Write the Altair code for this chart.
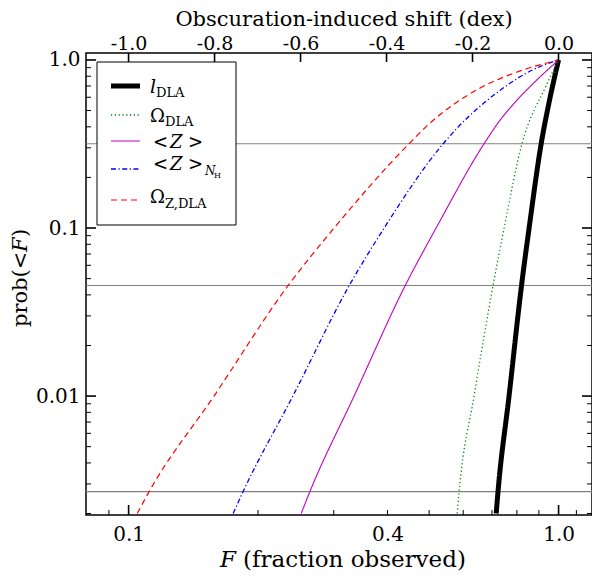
import altair as alt
import pandas as pd

FONT = "DejaVu Serif"
W, H = 506, 462

# ---- data (F = fraction observed, p = prob(<F)) ----
p_ldla = [1.0, 0.578, 0.3173, 0.1, 0.0455, 0.01, 0.0027, 0.002]
F_ldla = [1.0, 0.953, 0.911, 0.854, 0.820, 0.767, 0.723, 0.716]

p_omega = [1.0, 0.681, 0.3173, 0.1, 0.0455, 0.01, 0.0027, 0.002]
F_omega = [1.0, 0.930, 0.822, 0.747, 0.704, 0.636, 0.587, 0.581]

p_z = [1.0, 0.760, 0.578, 0.428, 0.3173, 0.1, 0.0455, 0.01, 0.0027, 0.002]
F_z = [1.0, 0.890, 0.801, 0.726, 0.671, 0.519, 0.440, 0.3345, 0.264, 0.252]

p_znh = [1.0, 0.872, 0.663, 0.518, 0.399, 0.3173, 0.1, 0.0455, 0.01, 0.0027, 0.002]
F_znh = [1.0, 0.870, 0.733, 0.650, 0.584, 0.539, 0.393, 0.326, 0.241, 0.1846, 0.175]

p_oz = [1.0, 0.848, 0.681, 0.540, 0.422, 0.3173, 0.1, 0.0455, 0.01, 0.0027, 0.002]
F_oz = [1.0, 0.801, 0.657, 0.568, 0.503, 0.449, 0.3006, 0.235, 0.158, 0.1116, 0.1047]

sigma_levels = [0.3173, 0.0455, 0.0027]

x_domain = [0.0796, 1.196]
y_domain = [0.00196, 1.10]
dex_domain = [-1.099, 0.0779]

x_labels = [0.1, 0.4, 1.0]
x_major = [0.1, 1.0]
x_minor = [0.09, 0.2, 0.3, 0.4, 0.5, 0.6, 0.7, 0.8, 0.9, 1.1]
y_labels = [0.01, 0.1, 1.0]
y_major = [0.01, 0.1, 1.0]
y_minor = ([0.002, 0.003, 0.004, 0.005, 0.006, 0.007, 0.008, 0.009]
           + [0.02, 0.03, 0.04, 0.05, 0.06, 0.07, 0.08, 0.09]
           + [0.2, 0.3, 0.4, 0.5, 0.6, 0.7, 0.8, 0.9])
dex_ticks = [-1.0, -0.8, -0.6, -0.4, -0.2, 0.0]

series_F = [F_ldla, F_omega, F_z, F_znh, F_oz]
series_p = [p_ldla, p_omega, p_z, p_znh, p_oz]
series_color = ["#000000", "#008000", "#bf00bf", "#0000ff", "#ff0000"]
series_width = [5, 1.3, 1.1, 1.3, 1.2]
series_dash = [[1, 0], [1.2, 2.6], [1, 0], [5, 2.5, 1.2, 2.5], [6, 4]]


def xs():
    return alt.Scale(type="log", domain=x_domain, nice=False, zero=False)


yscale = alt.Scale(type="log", domain=y_domain, nice=False, zero=False)
dscale = alt.Scale(type="linear", domain=dex_domain, nice=False, zero=False)

xaxis = alt.Axis(values=x_labels, format=".1f", labelFont=FONT, labelFontSize=20,
                 labelColor="black", labelPadding=9, ticks=False, domain=False,
                 grid=False, title=None, labelFlush=False, labelOverlap=False)
yaxis = alt.Axis(values=y_labels,
                 labelExpr="datum.value >= 0.1 ? format(datum.value, '.1f') : format(datum.value, '.2f')",
                 labelFont=FONT, labelFontSize=20, labelColor="black", labelPadding=6,
                 ticks=False, domain=False, grid=False, title=None,
                 labelFlush=False, labelOverlap=False)
taxis = alt.Axis(orient="top", values=dex_ticks,
                 labelExpr="replace(format(datum.value, '.1f'), '\u2212', '-')",
                 labelFont=FONT, labelFontSize=19, labelColor="black", labelPadding=0,
                 ticks=False, domain=False, grid=False, title=None,
                 labelFlush=False, labelOverlap=False)

one = pd.DataFrame({"a": [0]})
layers = []

# sigma reference lines
hl = pd.DataFrame({"p": sigma_levels})
layers.append(alt.Chart(hl).mark_rule(color="#808080", strokeWidth=1.2).encode(
    y=alt.Y("p:Q", scale=yscale, axis=yaxis)))

# curves
for i, (Fs, ps, c, w, d) in enumerate(zip(series_F, series_p, series_color,
                                          series_width, series_dash)):
    df = pd.DataFrame({"F": Fs, "p": ps})
    layers.append(alt.Chart(df).mark_line(color=c, strokeWidth=w, strokeDash=d,
                                          clip=True, interpolate="monotone").encode(
        x=alt.X("F:Q", scale=xs(), axis=xaxis if i == 0 else None),
        y=alt.Y("p:Q", scale=yscale, axis=yaxis),
        order=alt.Order("F:Q")))

# bottom ticks (inward)
for vals, ln, sw in [(x_major, 10, 1.6), (x_minor, 5, 1.0)]:
    layers.append(alt.Chart(pd.DataFrame({"F": vals})).mark_rule(
        color="black", strokeWidth=sw).encode(
        x=alt.X("F:Q", scale=xs(), axis=None),
        y=alt.value(H), y2=alt.value(H - ln)))

# left & right ticks (inward)
for vals, ln, sw in [(y_major, 10, 1.6), (y_minor, 5, 1.0)]:
    dfv = pd.DataFrame({"p": vals})
    layers.append(alt.Chart(dfv).mark_rule(color="black", strokeWidth=sw).encode(
        y=alt.Y("p:Q", scale=yscale, axis=yaxis),
        x=alt.value(0), x2=alt.value(ln)))
    layers.append(alt.Chart(dfv).mark_rule(color="black", strokeWidth=sw).encode(
        y=alt.Y("p:Q", scale=yscale, axis=yaxis),
        x=alt.value(W), x2=alt.value(W - ln)))

# top ticks (inward) on the dex axis
layers.append(alt.Chart(pd.DataFrame({"d": dex_ticks})).mark_rule(
    color="black", strokeWidth=1.6).encode(
    x=alt.X("d:Q", scale=dscale, axis=taxis),
    y=alt.value(0), y2=alt.value(9)))

# legend box
layers.append(alt.Chart(one).mark_rect(fill="white", stroke="black",
                                       strokeWidth=1.0).encode(
    x=alt.value(11), x2=alt.value(150), y=alt.value(9), y2=alt.value(172)))

row_y = [33, 62, 88, 116, 147]
for ry, c, w, d in zip(row_y, series_color, series_width, series_dash):
    layers.append(alt.Chart(one).mark_rule(color=c, strokeWidth=w, strokeDash=d).encode(
        x=alt.value(25), x2=alt.value(54), y=alt.value(ry)))


def txt(s, x, y, size, italic=False, angle=0, align="left"):
    kw = dict(text=s, font=FONT, fontSize=size, color="black", align=align,
              baseline="alphabetic", angle=angle)
    if italic:
        kw["fontStyle"] = "italic"
    return alt.Chart(one).mark_text(**kw).encode(x=alt.value(x), y=alt.value(y))


# legend labels
layers += [
    txt("l", 64, 40, 19, italic=True), txt("DLA", 70, 44, 13),
    txt("\u03a9", 64, 69, 18), txt("DLA", 79, 73, 13),
    txt("<", 67, 95, 18), txt("Z", 84, 95, 18, italic=True), txt(">", 102, 95, 18),
    txt("<", 67, 117, 18), txt("Z", 84, 117, 18, italic=True), txt(">", 102, 117, 18),
    txt("N", 119, 122, 12, italic=True), txt("H", 128, 125, 8),
    txt("\u03a9", 64, 150, 18), txt("Z,DLA", 79, 155, 13),
]

# axis titles
layers += [
    txt("Obscuration-induced shift (dex)", 258, -27.5, 21, align="center"),
    txt("F", 134, 514, 23, italic=True), txt("(fraction observed)", 157, 514, 23),
    txt("prob(<", -59, 274, 21, angle=270),
    txt("F", -59, 199, 21, italic=True, angle=270),
    txt(")", -59, 184, 21, angle=270),
]

chart = alt.layer(*layers).resolve_scale(x="independent").properties(
    width=W, height=H,
    padding={"left": 78, "top": 45, "right": 0, "bottom": 56},
    autosize=alt.AutoSizeParams(type="none"),
).configure_view(stroke="black", strokeWidth=1.5)

chart.save("out.html", embed_options={"renderer": "svg", "actions": False})
